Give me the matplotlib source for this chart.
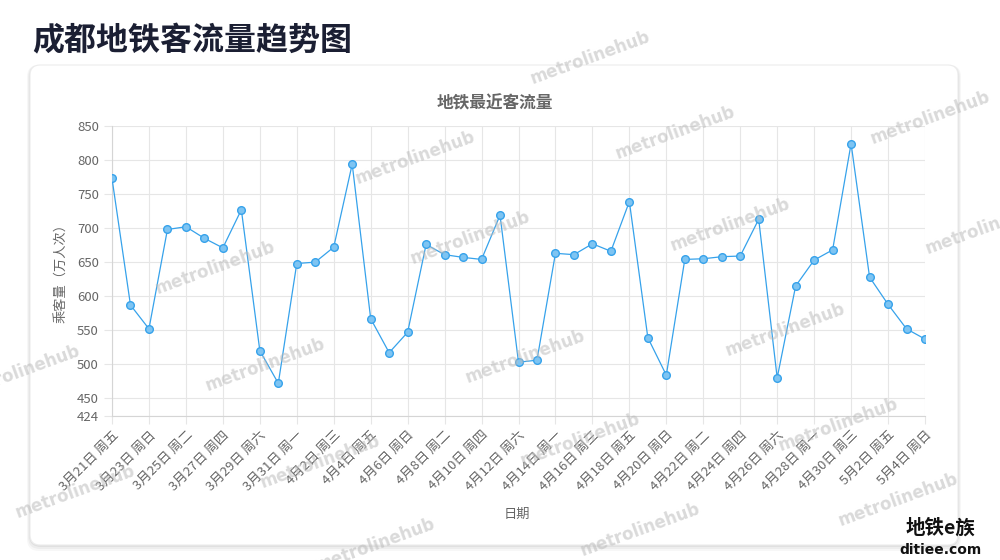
import matplotlib.pyplot as plt
from matplotlib.patches import FancyBboxPatch
import pandas as pd

plt.rcParams['font.family'] = ['Noto Sans CJK SC', 'DejaVu Sans']

# Data, 万人次
dates = pd.date_range('2025-03-21', '2025-05-04')
weekday_names = ['周一', '周二', '周三', '周四', '周五', '周六', '周日']
date_labels = [f"{d.month}月{d.day}日 {weekday_names[d.weekday()]}" for d in dates]
passengers = [773, 587, 552, 698, 702, 685, 671, 727, 520, 472,
              648, 650, 672, 794, 567, 517, 547, 676, 661, 657,
              654, 719, 503, 506, 663, 661, 677, 666, 739, 539,
              484, 654, 655, 658, 659, 713, 480, 615, 653, 668,
              824, 628, 588, 552, 537]
y_ticks = [424, 450, 500, 550, 600, 650, 700, 750, 800, 850]

W, H = 1000, 560
fig = plt.figure(figsize=(W / 100, H / 100), dpi=100)

# background layer in pixel coordinates
bg = fig.add_axes([0, 0, 1, 1])
bg.set_xlim(0, W)
bg.set_ylim(H, 0)
bg.axis('off')
for off, a in [(6, 0.03), (4, 0.04), (2, 0.05)]:
    bg.add_patch(FancyBboxPatch((30 - off / 2, 65), 928 + off, 480 + off,
                                boxstyle="round,pad=0,rounding_size=12",
                                fc='black', ec='none', alpha=a))
bg.add_patch(FancyBboxPatch((30, 65), 928, 480,
                            boxstyle="round,pad=0,rounding_size=10",
                            fc='white', ec='#ececec', lw=0.8))

# main chart
ax = fig.add_axes([112 / W, 1 - 416 / H, 813 / W, 290 / H])
x = list(range(len(passengers)))
ax.plot(x, passengers, color='#36a2eb', lw=0.9, marker='o', ms=5.5,
        mfc='#7ec4f2', mec='#36a2eb', mew=1.0, zorder=3)

ax.set_xlim(0, len(passengers) - 1)
ax.set_ylim(424, 850)
ax.set_yticks(y_ticks)
ax.set_xticks(x[::2])
ax.set_xticklabels(date_labels[::2], rotation=45, ha='right', rotation_mode='anchor')
ax.grid(color='#e6e6e6', lw=0.8)
for s in ['top', 'right']:
    ax.spines[s].set_visible(False)
for s in ['left', 'bottom']:
    ax.spines[s].set_color('#d5d5d5')
ax.tick_params(axis='both', length=6, color='#e6e6e6', labelcolor='#666666', labelsize=9.5)
ax.tick_params(axis='x', pad=3)
ax.patch.set_alpha(0)

# texts
fig.text(32 / W, 1 - 41 / H, '成都地铁客流量趋势图', fontsize=23, fontweight='bold',
         color='#1b1f33', va='center', ha='left')
fig.text(495 / W, 1 - 103 / H, '地铁最近客流量', fontsize=12, fontweight='bold',
         color='#666666', va='center', ha='center')
fig.text(62 / W, 1 - 270 / H, '乘客量（万人次）', fontsize=9.5, color='#666666',
         rotation=90, va='center', ha='center')
fig.text(517 / W, 1 - 514 / H, '日期', fontsize=9.5, color='#666666',
         va='center', ha='center')

# watermarks
marks = [(415, 158), (675, 133), (930, 118), (215, 268), (470, 238), (730, 225),
         (985, 228), (265, 365), (525, 357), (785, 330), (20, 372), (320, 462),
         (580, 440), (838, 425), (75, 492), (375, 545), (640, 530), (898, 500),
         (590, 58)]
for mx, my in marks:
    fig.text(mx / W, 1 - my / H, 'metrolinehub', fontsize=12, fontweight='bold',
             color='#bbbbbb', alpha=0.55, rotation=20, ha='center', va='center',
             family='DejaVu Sans', zorder=10)

fig.text(940 / W, 1 - 528 / H, '地铁e族', fontsize=14, fontweight='bold',
         color='#111111', ha='center', va='center', zorder=11)
fig.text(940 / W, 1 - 550 / H, 'ditiee.com', fontsize=10, fontweight='bold',
         color='#111111', ha='center', va='center', zorder=11, family='DejaVu Sans')

fig.savefig('out.png', dpi=100)
